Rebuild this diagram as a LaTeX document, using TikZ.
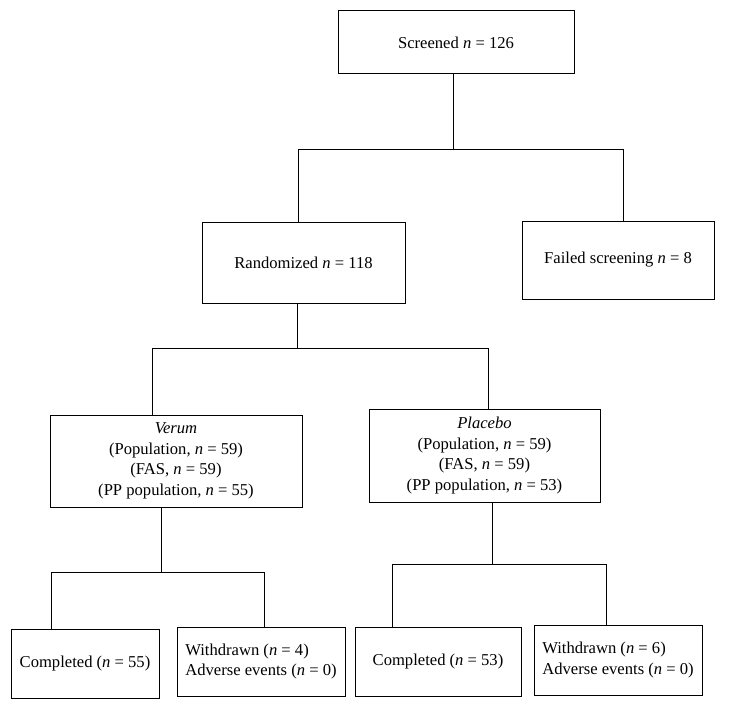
\documentclass[tikz,border=0pt]{standalone}
\usepackage{fontspec}
\setmainfont{Liberation Serif}
\begin{document}
\begin{tikzpicture}[x=1pt,y=-1pt,
  box/.style={draw, line width=1pt, inner sep=2pt, align=center,
    font=\fontsize{16.6}{20.5}\selectfont},
  conn/.style={line width=1pt}]
\useasboundingbox (0,0) rectangle (729,709);
\fill[white] (0,0) rectangle (729,709);
% boxes
\node[box, minimum width=236pt, minimum height=63pt] (scr) at (456,42.5) {Screened \textit{n} = 126};
\node[box, minimum width=203pt, minimum height=81pt] (rand) at (303.5,262.5) {Randomized \textit{n} = 118};
\node[box, minimum width=192pt, minimum height=78pt] (fail) at (618,260) {Failed screening \textit{n} = 8};
\node[box, minimum width=252pt, minimum height=92pt] (ver) at (176,461) {\textit{Verum}\\(Population, \textit{n} = 59)\\(FAS, \textit{n} = 59)\\(PP population, \textit{n} = 55)};
\node[box, minimum width=231pt, minimum height=93pt] (pla) at (484.5,455.5) {\textit{Placebo}\\(Population, \textit{n} = 59)\\(FAS, \textit{n} = 59)\\(PP population, \textit{n} = 53)};
\node[box, minimum width=148pt, minimum height=69pt] (c1) at (85,663.5) {Completed (\textit{n} = 55)};
\node[box, minimum width=168pt, minimum height=69pt, align=left] (w1) at (261,661.5) {Withdrawn (\textit{n} = 4)\\Adverse events (\textit{n} = 0)};
\node[box, minimum width=166pt, minimum height=69pt] (c2) at (438,661.5) {Completed (\textit{n} = 53)};
\node[box, minimum width=168pt, minimum height=70pt, align=left] (w2) at (618,660) {Withdrawn (\textit{n} = 6)\\Adverse events (\textit{n} = 0)};
% junction points
\coordinate (a1) at (453,149);
\coordinate (a2) at (298,149);
\coordinate (a3) at (623,149);
\coordinate (b1) at (297,348);
\coordinate (b2) at (152,348);
\coordinate (b3) at (488,348);
\coordinate (c0) at (161,572);
\coordinate (cl) at (51,572);
\coordinate (cr) at (264,572);
\coordinate (d0) at (492,564);
\coordinate (dl) at (392,564);
\coordinate (dr) at (606,564);
% connectors
\draw[conn] (scr.south -| a1) -- (a1);
\draw[conn] (a2 |- rand.north) -- (a2) -- (a3) -- (a3 |- fail.north);
\draw[conn] (rand.south -| b1) -- (b1);
\draw[conn] (b2 |- ver.north) -- (b2) -- (b3) -- (b3 |- pla.north);
\draw[conn] (ver.south -| c0) -- (c0);
\draw[conn] (cl |- c1.north) -- (cl) -- (cr) -- (cr |- w1.north);
\draw[conn] (pla.south -| d0) -- (d0);
\draw[conn] (dl |- c2.north) -- (dl) -- (dr) -- (dr |- w2.north);
\end{tikzpicture}
\end{document}
